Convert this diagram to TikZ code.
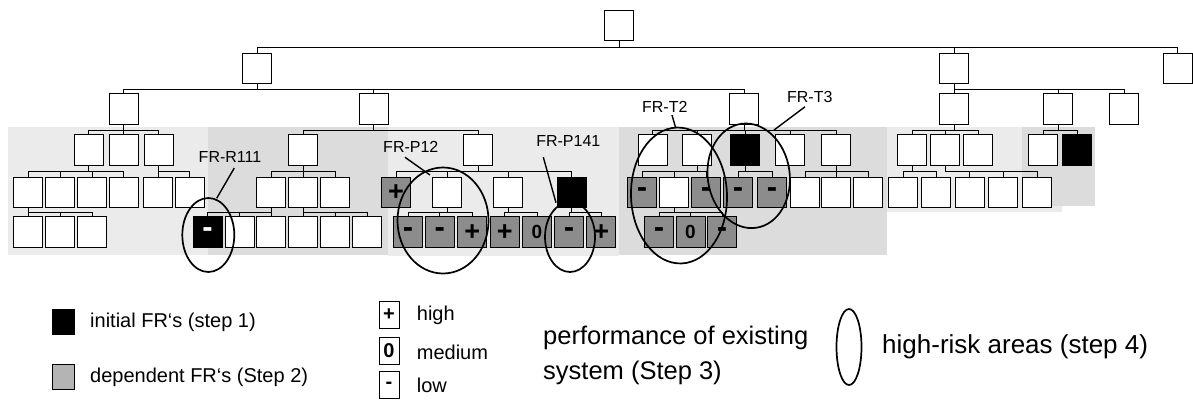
\documentclass[tikz,border=0pt]{standalone}
\usepackage{fontspec}
\setmainfont{Liberation Sans}
\usetikzlibrary{calc}
\definecolor{bglight}{HTML}{EBEBEB}
\definecolor{bgdark}{HTML}{DCDCDC}
\definecolor{depgray}{HTML}{8C8C8C}
\definecolor{leggray}{HTML}{B4B4B4}
\newcommand\kids[3]{\foreach \c in {#3}{\draw[conn] (#1.south) -- ++(0,#2) -| (\c.north);}}
\newcommand\zer{{\fontsize{19}{19}\selectfont 0}}
\newcommand\mi{{\fontsize{31}{31}\selectfont -}}
\newcommand\pl{{\fontsize{27}{27}\selectfont +}}
\begin{document}
\begin{tikzpicture}[x=1pt,y=-1pt,
  box/.style={draw=black, line width=0.9pt, fill=white, minimum width=29pt, minimum height=30.5pt, inner sep=0pt, font=\fontsize{25}{25}\selectfont\bfseries},
  ini/.style={box, fill=black, text=white},
  dep/.style={box, fill=depgray},
  conn/.style={draw=black, line width=0.9pt},
  risk/.style={draw=black, line width=1.7pt},
  lab/.style={font=\fontsize{16}{16}\selectfont, inner sep=0pt},
  lead/.style={draw=black, line width=1.4pt},
  legtxt/.style={font=\fontsize{20}{20}\selectfont, inner sep=0pt, anchor=west},
  sgn/.style={draw=black, line width=0.8pt, fill=white, minimum width=20pt, minimum height=27pt, inner sep=0pt, font=\fontsize{20}{20}\selectfont\bfseries},
  sq/.style={draw=black, line width=0.8pt, minimum width=22pt, minimum height=25pt, inner sep=0pt}]
\useasboundingbox (0,0) rectangle (1193,401);
% background areas
\fill[bglight] (8,126.7) rectangle (208.3,255);
\fill[bgdark] (208.3,126.7) rectangle (387.5,255);
\fill[bglight] (387.5,127) rectangle (618.5,255.5);
\fill[bgdark] (618.5,126.7) rectangle (886.7,255);
\fill[bglight] (886.7,127.5) rectangle (1061.7,212.3);
\fill[bgdark] (1021.7,127.5) rectangle (1095,206);
% level 0,1
\node[box] (r) at (619,25.7) {};
\node[box] (a) at (257,68.7) {};
\node[box] (b) at (954,68.7) {};
\node[box] (c) at (1177.5,68.7) {};
% level 2
\foreach \n/\x in {a1/123.7,a2/373.7,a3/744,b1/954,b2/1058,b3/1124}
  \node[box] (\n) at (\x,108.8) {};
% level 3
\foreach \n/\x in {a11/88.5,a12/123.7,a13/158.7,a21/303.3,a22/478.3,a31/652.5,a32/697,a34/790,a35/836,b11/912,b12/945,b13/978,b21/1043}
  \node[box] (\n) at (\x,150) {};
\node[ini] (a33) at (745,150) {};
\node[ini] (b22) at (1077,150) {};
% level 4
\foreach \n/\x in {a111/28.2,a112/60.2,a113/92.2,a114/123.8,a131/158,a132/189.7,a211/271,a212/303.3,a213/335,a222/447,a223/508,a322/674,a351/805,a352/836.3,a353/868,b111/903,b112/936,b121/969.5,b122/1003,b123/1037}
  \node[box] (\n) at (\x,192.2) {};
\node[dep] (a221) at (396,192.2) {\pl};
\node[ini] (a224) at (571.7,192.2) {};
\node[dep] (a321) at (642,192.2) {\mi};
\node[dep] (a323) at (706,192.2) {\mi};
\node[dep] (a331) at (738,192.2) {\mi};
\node[dep] (a332) at (772,192.2) {\mi};
% level 5
\foreach \n/\x in {a1111/28.2,a1112/60.2,a1113/92.2,a2112/239.7,a2113/271.3,a2121/303.3,a2122/335,a2123/367}
  \node[box] (\n) at (\x,232.1) {};
\node[ini] (a2111) at (207.5,232.1) {\mi};
\foreach \n/\x/\s in {a2221/408/\mi,a2222/439.7/\mi,a2223/472.3/\pl,a2231/504.7/\pl,a2232/537/\zer,a2241/569/\mi,a2242/601.3/\pl,a3221/659/\mi,a3222/690.5/\zer,a3223/722/\mi}
  \node[dep] (\n) at (\x,232.1) {\s};
% connectors
\kids{r}{6.5}{a,b,c}
\kids{a}{4.7}{a1,a2,a3}
\kids{b}{4.7}{b1,b2,b3}
\kids{a1}{5.7}{a11,a12,a13}
\kids{a2}{5.7}{a21,a22}
\kids{a3}{5.7}{a31,a32,a33,a34,a35}
\kids{b1}{5.7}{b11,b12,b13}
\kids{b2}{5.7}{b21,b22}
\kids{a11}{5.6}{a111,a112,a113,a114}
\kids{a13}{5.6}{a131,a132}
\kids{a21}{5.6}{a211,a212,a213}
\kids{a22}{5.6}{a221,a222,a223,a224}
\kids{a32}{5.6}{a321,a322,a323}
\kids{a33}{5.6}{a331,a332}
\kids{a35}{5.6}{a351,a352,a353}
\kids{b11}{5.6}{b111,b112}
\kids{b12}{5.6}{b121,b122,b123}
\kids{a111}{4.6}{a1111,a1112,a1113}
\kids{a211}{4.6}{a2111,a2112,a2113}
\kids{a212}{4.6}{a2121,a2122,a2123}
\kids{a222}{4.6}{a2221,a2222,a2223}
\kids{a223}{4.6}{a2231,a2232}
\kids{a224}{4.6}{a2241,a2242}
\kids{a322}{4.6}{a3221,a3222,a3223}
% high-risk areas
\draw[risk] (208.3,235) ellipse [x radius=26pt, y radius=37pt];
\draw[risk] (443,220.5) ellipse [x radius=45.5pt, y radius=53pt];
\draw[risk] (570,237) ellipse [x radius=25pt, y radius=35pt];
\draw[risk, rotate around={2:(679,195.5)}] (679,195.5) ellipse [x radius=48pt, y radius=68pt];
\draw[risk, rotate around={8:(748.7,175.8)}] (748.7,175.8) ellipse [x radius=41pt, y radius=52.5pt];
% labels and leaders
\node[lab] (lR) at (230,157.3) {FR-R111};
\node[lab] (lP12) at (410.8,146.7) {FR-P12};
\node[lab] (lP141) at (568.3,141) {FR-P141};
\node[lab] (lT2) at (664.8,107.3) {FR-T2};
\node[lab] (lT3) at (809.8,96.7) {FR-T3};
\coordinate (eR) at (216.7,198.3);
\coordinate (eP12) at (430,175);
\coordinate (eP141) at (556,202.7);
\coordinate (eT2) at (675.7,128);
\coordinate (eT3) at (774,130);
\draw[lead] ([shift={(4.3,5)}]lR.south) -- (eR);
\draw[lead] ([shift={(-5.8,4.8)}]lP12.south) -- (eP12);
\draw[lead] ([shift={(-25,10.5)}]lP141.south) -- (eP141);
\draw[lead] ([shift={(7.2,2)}]lT2.south) -- (eT2);
\draw[lead] ([shift={(-4.8,4.2)}]lT3.south) -- (eT3);
% legend
\node[sq, fill=black] (lgI) at (63,321.5) {};
\node[legtxt] (lgIt) at (90,322.5) {initial FR‘s (step 1)};
\node[sq, fill=leggray] (lgD) at (63,377) {};
\node[legtxt] (lgDt) at (90,377) {dependent FR‘s (Step 2)};
\node[sgn] (lgP) at (389,315) {+};
\node[sgn] (lgZ) at (389,350.5) {0};
\node[sgn] (lgM) at (389,385) {-};
\node[legtxt] (lgPt) at (416.7,315.7) {high};
\node[legtxt] (lgZt) at (416.7,352) {medium};
\node[legtxt] (lgMt) at (416.7,385.5) {low};
\node[anchor=west, align=left, inner sep=0pt, font=\fontsize{25.5}{35}\selectfont] (perf) at (543,355) {performance of existing\\system (Step 3)};
\draw[risk] (849,347) ellipse [x radius=12.5pt, y radius=38pt];
\node[anchor=west, inner sep=0pt, font=\fontsize{26}{26}\selectfont] (hr) at (882,347) {high-risk areas (step 4)};
\end{tikzpicture}
\end{document}
